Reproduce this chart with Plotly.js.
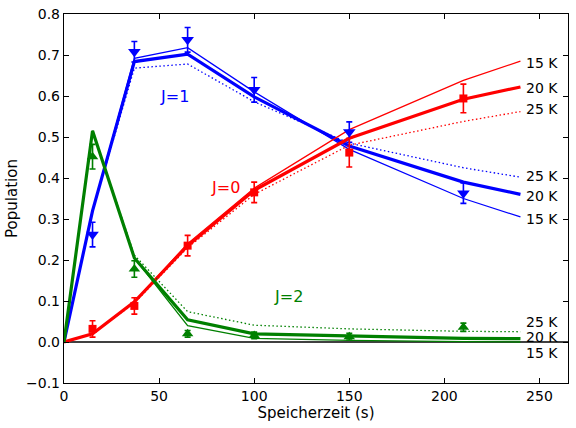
<!DOCTYPE html>
<html><head><meta charset="utf-8">
<script src="https://cdn.plot.ly/plotly-3.0.1.min.js"></script>
<style>html,body{margin:0;padding:0;background:#fff}#chart{width:576px;height:428px}</style>
</head><body><div id="chart"></div>
<script>
// measured data points
const tData = [15, 37, 65, 100, 150, 210];
const j1Data = [0.262, 0.708, 0.737, 0.615, 0.512, 0.363];
const j1Err  = [0.03, 0.025, 0.03, 0.03, 0.025, 0.025];
const j0Data = [0.032, 0.088, 0.235, 0.365, 0.462, 0.594];
const j0Err  = [0.02, 0.02, 0.025, 0.025, 0.035, 0.035];
const j2Data = [0.452, 0.178, 0.02, 0.016, 0.013, 0.036];
const j2Err  = [0.03, 0.02, 0.008, 0.008, 0.008, 0.01];

// model curves
const tModel = [0, 15, 37, 65, 100, 150, 210, 240];
const j1_15K = [0, 0.32, 0.692, 0.718, 0.61, 0.47, 0.35, 0.305];
const j1_20K = [0, 0.32, 0.684, 0.702, 0.598, 0.478, 0.39, 0.36];
const j1_25K = [0, 0.32, 0.668, 0.678, 0.586, 0.485, 0.425, 0.402];
const j0_15K = [0, 0.02, 0.098, 0.24, 0.375, 0.518, 0.638, 0.685];
const j0_20K = [0, 0.02, 0.098, 0.235, 0.37, 0.497, 0.592, 0.622];
const j0_25K = [0, 0.02, 0.095, 0.23, 0.36, 0.48, 0.538, 0.562];
const j2_15K = [0, 0.515, 0.205, 0.04, 0.009, 0.004, 0.001, 0.0];
const j2_20K = [0, 0.515, 0.205, 0.054, 0.02, 0.015, 0.009, 0.008];
const j2_25K = [0, 0.515, 0.212, 0.074, 0.041, 0.032, 0.026, 0.025];

// labels
const tempLabels = ["15 K", "20 K", "25 K", "25 K", "20 K", "15 K", "25 K", "20 K", "15 K"];
const tempLabelY = [0.68, 0.62, 0.568, 0.405, 0.355, 0.30, 0.05, 0.012, -0.027];
const labelX = 242;
const stateLabels = ["J=1", "J=0", "J=2"];
const stateLabelX = [58, 85, 118];
const stateLabelY = [0.60, 0.378, 0.11];
const stateColors = ["#0000ff", "#ff0000", "#008000"];
const xTicks = [0, 50, 100, 150, 200, 250];
const yTicks = [-0.1, 0, 0.1, 0.2, 0.3, 0.4, 0.5, 0.6, 0.7, 0.8];

const B = "#0000ff", R = "#ff0000", G = "#008000";
const DOT = "1.5px,2.5px";
function model(y, c, w, dash) {
  return {x: tModel, y: y, mode: "lines", line: {color: c, width: w, dash: dash || "solid"}, hoverinfo: "skip", showlegend: false};
}
function pts(y, e, c, sym, size) {
  return {x: tData, y: y, mode: "markers", marker: {color: c, symbol: sym, size: size},
    error_y: {type: "data", array: e, visible: true, color: c, thickness: 1.6, width: 3}, showlegend: false};
}
const traces = [
  {x: [0, 265], y: [0, 0], mode: "lines", line: {color: "#000", width: 1.3}, showlegend: false, hoverinfo: "skip"},
  model(j1_15K, B, 1.3), model(j1_20K, B, 3.2), model(j1_25K, B, 1.3, DOT),
  model(j0_15K, R, 1.3), model(j0_20K, R, 3.2), model(j0_25K, R, 1.3, DOT),
  model(j2_15K, G, 1.3), model(j2_20K, G, 3.2), model(j2_25K, G, 1.3, DOT),
  pts(j1Data, j1Err, B, "triangle-down", 11),
  pts(j0Data, j0Err, R, "square", 8),
  pts(j2Data, j2Err, G, "triangle-up", 10)
];
const annotations = [];
tempLabels.forEach((t, i) => annotations.push({x: labelX, y: tempLabelY[i], text: t, showarrow: false,
  xanchor: "left", yanchor: "middle", font: {size: 14, color: "#000"}}));
stateLabels.forEach((t, i) => annotations.push({x: stateLabelX[i], y: stateLabelY[i], text: t, showarrow: false,
  xanchor: "center", yanchor: "middle", font: {size: 16, color: stateColors[i]}}));

const ax = {showgrid: false, zeroline: false, showline: true, linecolor: "#000", linewidth: 1.2, mirror: "allticks",
  ticks: "inside", ticklen: 5, tickcolor: "#000", tickfont: {size: 14, color: "#000"}};
const layout = {
  width: 576, height: 428, margin: {l: 64, r: 8, t: 14, b: 45},
  paper_bgcolor: "#fff", plot_bgcolor: "#fff",
  font: {family: "DejaVu Sans", color: "#000"},
  xaxis: Object.assign({}, ax, {range: [0, 265], tickvals: xTicks, ticktext: xTicks.map(String),
    title: {text: "Speicherzeit (s)", font: {size: 15}, standoff: 2}}),
  yaxis: Object.assign({}, ax, {range: [-0.1, 0.8], tickvals: yTicks, tickformat: ".1f",
    title: {text: "Population", font: {size: 15}, standoff: 4}}),
  annotations: annotations
};
Plotly.newPlot("chart", traces, layout, {staticPlot: true});
</script></body></html>
